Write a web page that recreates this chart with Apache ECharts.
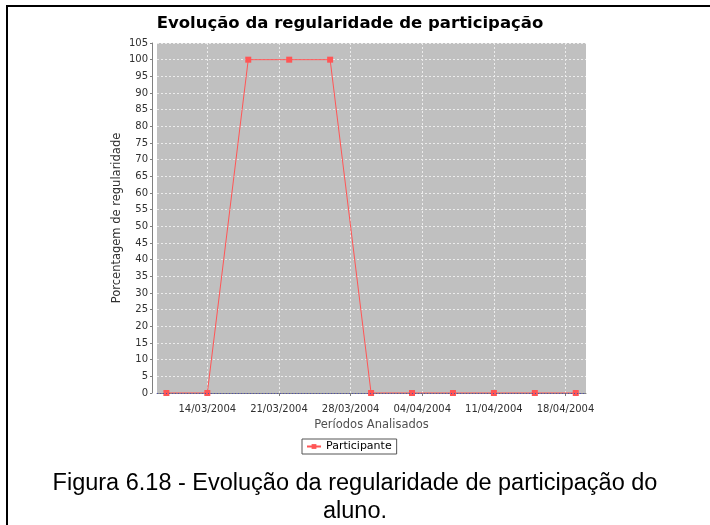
<!DOCTYPE html>
<html>
<head>
<meta charset="utf-8">
<script src="https://cdn.jsdelivr.net/npm/echarts@6/dist/echarts.min.js"></script>
<style>
  html, body { margin: 0; padding: 0; background: #fff; overflow: hidden; }
  .wrap { position: relative; width: 710px; height: 525px; overflow: hidden; }
  #chart { width: 710px; height: 525px; }
  /* moldura da figura (so borda esquerda e superior aparecem no recorte) */
  .frame {
    position: absolute; left: 6px; top: 5px; width: 800px; height: 600px;
    border-left: 2px solid #000; border-top: 2px solid #000;
    pointer-events: none;
  }
</style>
</head>
<body>
<div class="wrap">
  <div id="chart"></div>
  <div class="frame"></div>
</div>
<script>
// datas dos periodos analisados
const periodos = ['2004-03-10', '2004-03-14', '2004-03-18', '2004-03-22', '2004-03-26', '2004-03-30',
  '2004-04-03', '2004-04-07', '2004-04-11', '2004-04-15', '2004-04-19']
// porcentagem de regularidade do participante
const participante = [0, 0, 100, 100, 100, 0, 0, 0, 0, 0, 0]
// marcas do eixo x (semanas)
const semanas = ['2004-03-14', '2004-03-21', '2004-03-28', '2004-04-04', '2004-04-11', '2004-04-18']

const toTime = d => echarts.time.parse(d).getTime()

const myChart = echarts.init(document.getElementById('chart'), null, { renderer: 'canvas' })
const font = 'DejaVu Sans'
const option = {
  backgroundColor: '#fff',
  animation: false,
  title: [
    {
      text: 'Evolução da regularidade de participação',
      left: 350,
      textAlign: 'center',
      top: 15,
      padding: 0,
      textStyle: { fontFamily: font, fontSize: 16.5, fontWeight: 'bold', color: '#000' }
    },
    {
      text: 'Figura 6.18 - Evolução da regularidade de participação do\naluno.',
      left: 'center',
      top: 470,
      padding: [0, 0, 0, 2],
      textStyle: {
        fontFamily: 'Liberation Sans', fontSize: 23.5, fontWeight: 'normal',
        color: '#000', lineHeight: 28, align: 'center'
      }
    }
  ],
  legend: {
    left: 302,
    top: 439,
    padding: [2, 5, 2, 4],
    borderColor: '#555',
    borderWidth: 1,
    borderRadius: 0,
    itemWidth: 14,
    itemHeight: 6,
    itemGap: 4,
    textStyle: { fontFamily: font, fontSize: 11, color: '#000' },
    data: ['Participante']
  },
  grid: { left: 157, top: 43, right: 124, bottom: 132, containLabel: false, show: true, backgroundColor: '#c0c0c0', borderWidth: 0 },
  xAxis: {
    type: 'value',
    min: toTime('2004-03-09 02:00'),
    max: toTime('2004-04-20 00:00'),
    offset: 5,
    name: 'Períodos Analisados',
    nameLocation: 'middle',
    nameGap: 19,
    nameTextStyle: { fontFamily: font, fontSize: 11.5, color: '#505050' },
    axisLine: { show: true, lineStyle: { color: '#808080', width: 1 } },
    axisTick: { show: true, length: 3, customValues: semanas.map(toTime), lineStyle: { color: '#808080' } },
    axisLabel: {
      customValues: semanas.map(toTime),
      margin: 6,
      fontFamily: font,
      fontSize: 10,
      color: '#303030',
      formatter: function (v) {
        return echarts.time.format(v, '{dd}/{MM}/{yyyy}', false)
      }
    },
    splitLine: { show: true, lineStyle: { color: '#ececec', type: [2, 2], width: 1 } }
  },
  yAxis: {
    type: 'value',
    min: 0,
    max: 105,
    interval: 5,
    offset: 5,
    name: 'Porcentagem de regularidade',
    nameLocation: 'middle',
    nameMoveOverlap: false,
    nameGap: 29,
    nameTextStyle: { fontFamily: font, fontSize: 11.5, color: '#303030' },
    axisLine: { show: true, lineStyle: { color: '#808080', width: 1 } },
    axisTick: { show: true, length: 2, lineStyle: { color: '#808080' } },
    axisLabel: { margin: 4, fontFamily: font, fontSize: 10, color: '#303030' },
    splitLine: { show: true, lineStyle: { color: '#ececec', type: [2, 2], width: 1 } }
  },
  series: [
    {
      name: 'Participante',
      type: 'line',
      data: periodos.map((d, i) => [toTime(d), participante[i]]),
      symbol: 'rect',
      symbolSize: 6,
      showAllSymbol: true,
      clip: true,
      itemStyle: { color: '#ff5555' },
      lineStyle: { color: '#ff5555', width: 1 },
      markLine: {
        silent: true,
        symbol: 'none',
        label: { show: false },
        lineStyle: { color: '#5050b0', type: [1, 2], width: 1 },
        data: [{ yAxis: 0 }]
      }
    }
  ]
}
myChart.setOption(option)
</script>
</body>
</html>
